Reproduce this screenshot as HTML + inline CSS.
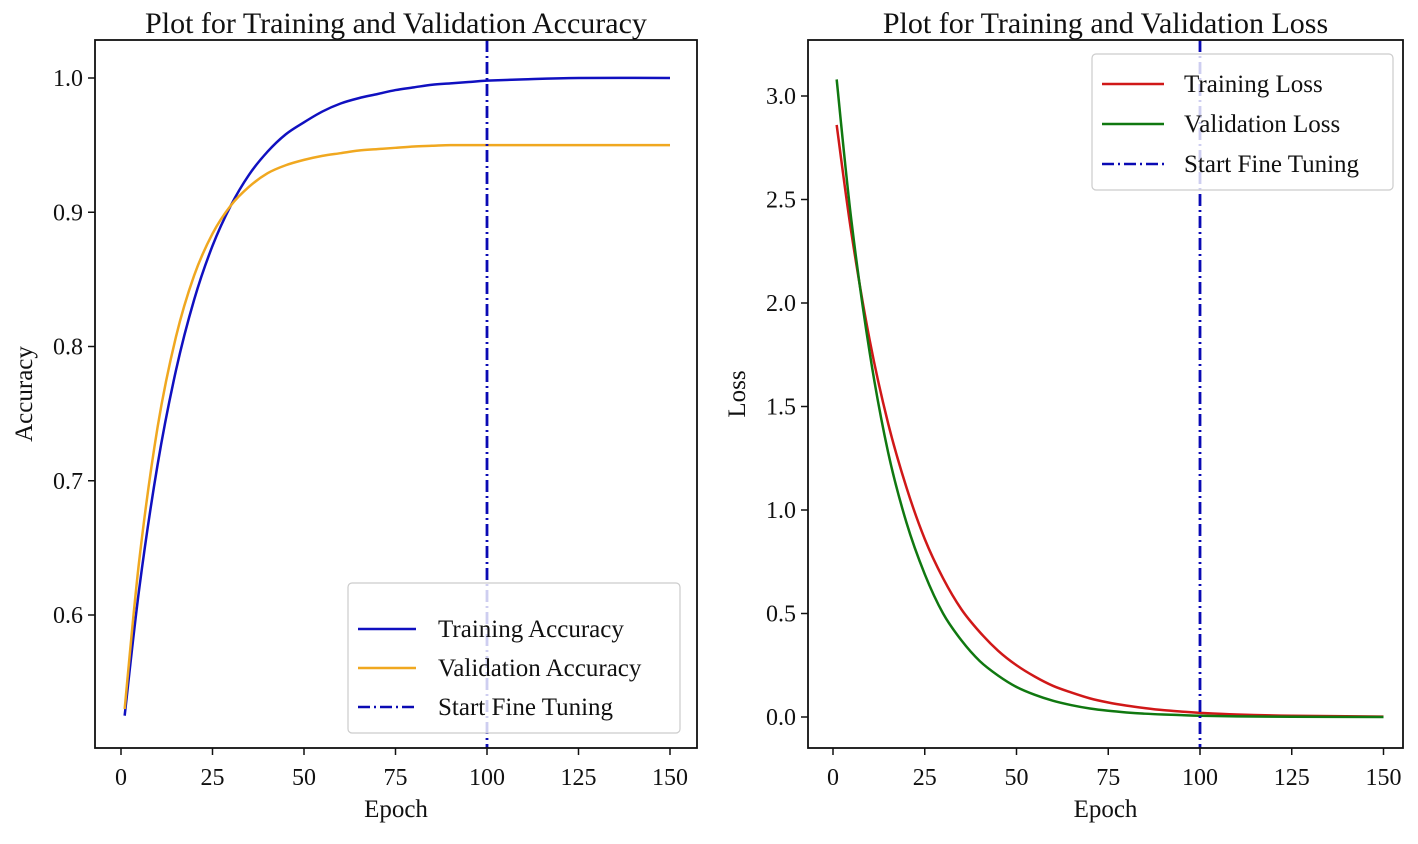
<!DOCTYPE html>
<html><head><meta charset="utf-8"><style>
body{margin:0;background:#fff}
svg text{font-family:"Liberation Serif",serif;fill:#111}
</style></head><body>
<svg id="chart" width="1418" height="839" xmlns="http://www.w3.org/2000/svg"></svg>
<script>
const epochs=[1,5,10,15,20,25,30,35,40,45,50,55,60,65,70,75,80,85,90,95,100,110,125,150];
const trainAcc=[0.525,0.62,0.712,0.782,0.835,0.875,0.905,0.928,0.945,0.958,0.967,0.975,0.981,0.985,0.988,0.991,0.993,0.995,0.996,0.997,0.998,0.999,1.0,1.0];
const valAcc=[0.530,0.641,0.74,0.807,0.853,0.884,0.905,0.919,0.929,0.935,0.939,0.942,0.944,0.946,0.947,0.948,0.949,0.9495,0.95,0.95,0.95,0.95,0.95,0.95];
const trainLoss=[2.86,2.34,1.82,1.42,1.11,0.86,0.67,0.52,0.41,0.32,0.25,0.195,0.15,0.118,0.09,0.07,0.055,0.043,0.033,0.026,0.02,0.012,0.006,0.002];
const valLoss=[3.08,2.40,1.76,1.28,0.94,0.69,0.50,0.37,0.27,0.20,0.145,0.107,0.078,0.057,0.041,0.03,0.022,0.016,0.012,0.009,0.006,0.003,0.001,0.0];
const xTicks=[0,25,50,75,100,125,150];
const accTicks=["0.6","0.7","0.8","0.9","1.0"];
const lossTicks=["0.0","0.5","1.0","1.5","2.0","2.5","3.0"];
const fineTuneEpoch=100;

const svg=document.getElementById('chart');
const NS='http://www.w3.org/2000/svg';
function mk(tag,attrs,parent){const e=document.createElementNS(NS,tag);for(const k in attrs)e.setAttribute(k,attrs[k]);(parent||svg).appendChild(e);return e;}
function path(xs,ys,sx,sy){
  const p=xs.map((x,i)=>[sx(x),sy(ys[i])]);
  let d='M'+p[0][0]+','+p[0][1];
  for(let i=0;i<p.length-1;i++){
    const p0=p[i-1]||p[i],p1=p[i],p2=p[i+1],p3=p[i+2]||p2;
    const c1x=p1[0]+(p2[0]-p0[0])/6,c1y=p1[1]+(p2[1]-p0[1])/6;
    const c2x=p2[0]-(p3[0]-p1[0])/6,c2y=p2[1]-(p3[1]-p1[1])/6;
    d+=' C'+c1x+','+c1y+' '+c2x+','+c2y+' '+p2[0]+','+p2[1];
  }
  return d;
}
function panel(cfg){
  const g=mk('g',{});
  
  
  const sx=x=>cfg.x0+(x-0)*cfg.xu;
  const sy=v=>cfg.yRef-(v-cfg.vRef)*cfg.yu;
  const t=mk('text',{x:(cfg.L+cfg.R)/2,y:33,'font-size':30,'text-anchor':'middle'},g);t.textContent=cfg.title;
  
  xTicks.forEach(v=>{
    mk('line',{x1:sx(v),x2:sx(v),y1:cfg.B,y2:cfg.B+7,stroke:'#111','stroke-width':1.5},g);
    const l=mk('text',{x:sx(v),y:cfg.B+37,'font-size':24,'text-anchor':'middle'},g);l.textContent=v;
    
  });
  cfg.yTicks.forEach(s=>{
    const v=parseFloat(s);
    mk('line',{x1:cfg.L-7,x2:cfg.L,y1:sy(v),y2:sy(v),stroke:'#111','stroke-width':1.5},g);
    const l=mk('text',{x:cfg.L-12,y:sy(v)+8,'font-size':24,'text-anchor':'end'},g);l.textContent=s;
    
  });
  const xl=mk('text',{x:(cfg.L+cfg.R)/2,y:817,'font-size':25,'text-anchor':'middle'},g);xl.textContent='Epoch';
  
  const yc=(cfg.T+cfg.B)/2;
  const yl=mk('text',{x:cfg.ylx,y:yc,'font-size':25,'text-anchor':'middle',transform:'rotate(-90 '+cfg.ylx+' '+yc+')'},g);yl.textContent=cfg.ylabel;
  
  cfg.series.forEach(s=>{
    const p=mk('path',{d:path(epochs,s.data,sx,sy),fill:'none',stroke:s.color,'stroke-width':2.5},g);
    
  });
  const vl=mk('line',{x1:sx(fineTuneEpoch),x2:sx(fineTuneEpoch),y1:cfg.T,y2:cfg.B,stroke:'#0a0ab4','stroke-width':2.8,'stroke-dasharray':'12,4,2,4'},g);
  
  const lg=cfg.legend;
  const lb=mk('rect',{x:lg.x,y:lg.y,width:lg.w,height:lg.h,rx:4,fill:'rgba(255,255,255,0.8)',stroke:'#ccc','stroke-width':1.2},g);
  
  lg.items.forEach((it,i)=>{
    const yy=lg.y0+i*lg.dy;
    mk('line',{x1:lg.lx1,x2:lg.lx2,y1:yy,y2:yy,stroke:it.color,'stroke-width':2.6,'stroke-dasharray':it.dash||'none'},g);
    const tx=mk('text',{x:lg.tx,y:yy+8,'font-size':25},g);tx.textContent=it.label;
    
  });
  const box=mk('rect',{x:cfg.L,y:cfg.T,width:cfg.R-cfg.L,height:cfg.B-cfg.T,fill:'none',stroke:'#111','stroke-width':1.8},g);
  
}
panel({name:'accuracy-panel',title:'Plot for Training and Validation Accuracy',L:95,R:697,T:40,B:748,x0:121,xu:3.66,yRef:615,vRef:0.6,yu:1342.5,
  yTicks:accTicks,ylabel:'Accuracy',ylx:32,
  series:[{data:trainAcc,color:'#1010c0',name:'training-accuracy-line'},{data:valAcc,color:'#f0a820',name:'validation-accuracy-line'}],
  legend:{x:348,y:583,w:332,h:150,y0:629,dy:39,lx1:358,lx2:416,tx:438,items:[{label:'Training Accuracy',color:'#1010c0'},{label:'Validation Accuracy',color:'#f0a820'},{label:'Start Fine Tuning',color:'#0a0ab4',dash:'12,4,2,4'}]}});
panel({name:'loss-panel',title:'Plot for Training and Validation Loss',L:808,R:1403,T:40,B:748,x0:833,xu:3.67,yRef:717,vRef:0,yu:207,
  yTicks:lossTicks,ylabel:'Loss',ylx:745,
  series:[{data:trainLoss,color:'#d01818',name:'training-loss-line'},{data:valLoss,color:'#107810',name:'validation-loss-line'}],
  legend:{x:1092,y:54,w:301,h:136,y0:84,dy:40,lx1:1102,lx2:1164,tx:1184,items:[{label:'Training Loss',color:'#d01818'},{label:'Validation Loss',color:'#107810'},{label:'Start Fine Tuning',color:'#0a0ab4',dash:'12,4,2,4'}]}});
</script>
</body></html>
